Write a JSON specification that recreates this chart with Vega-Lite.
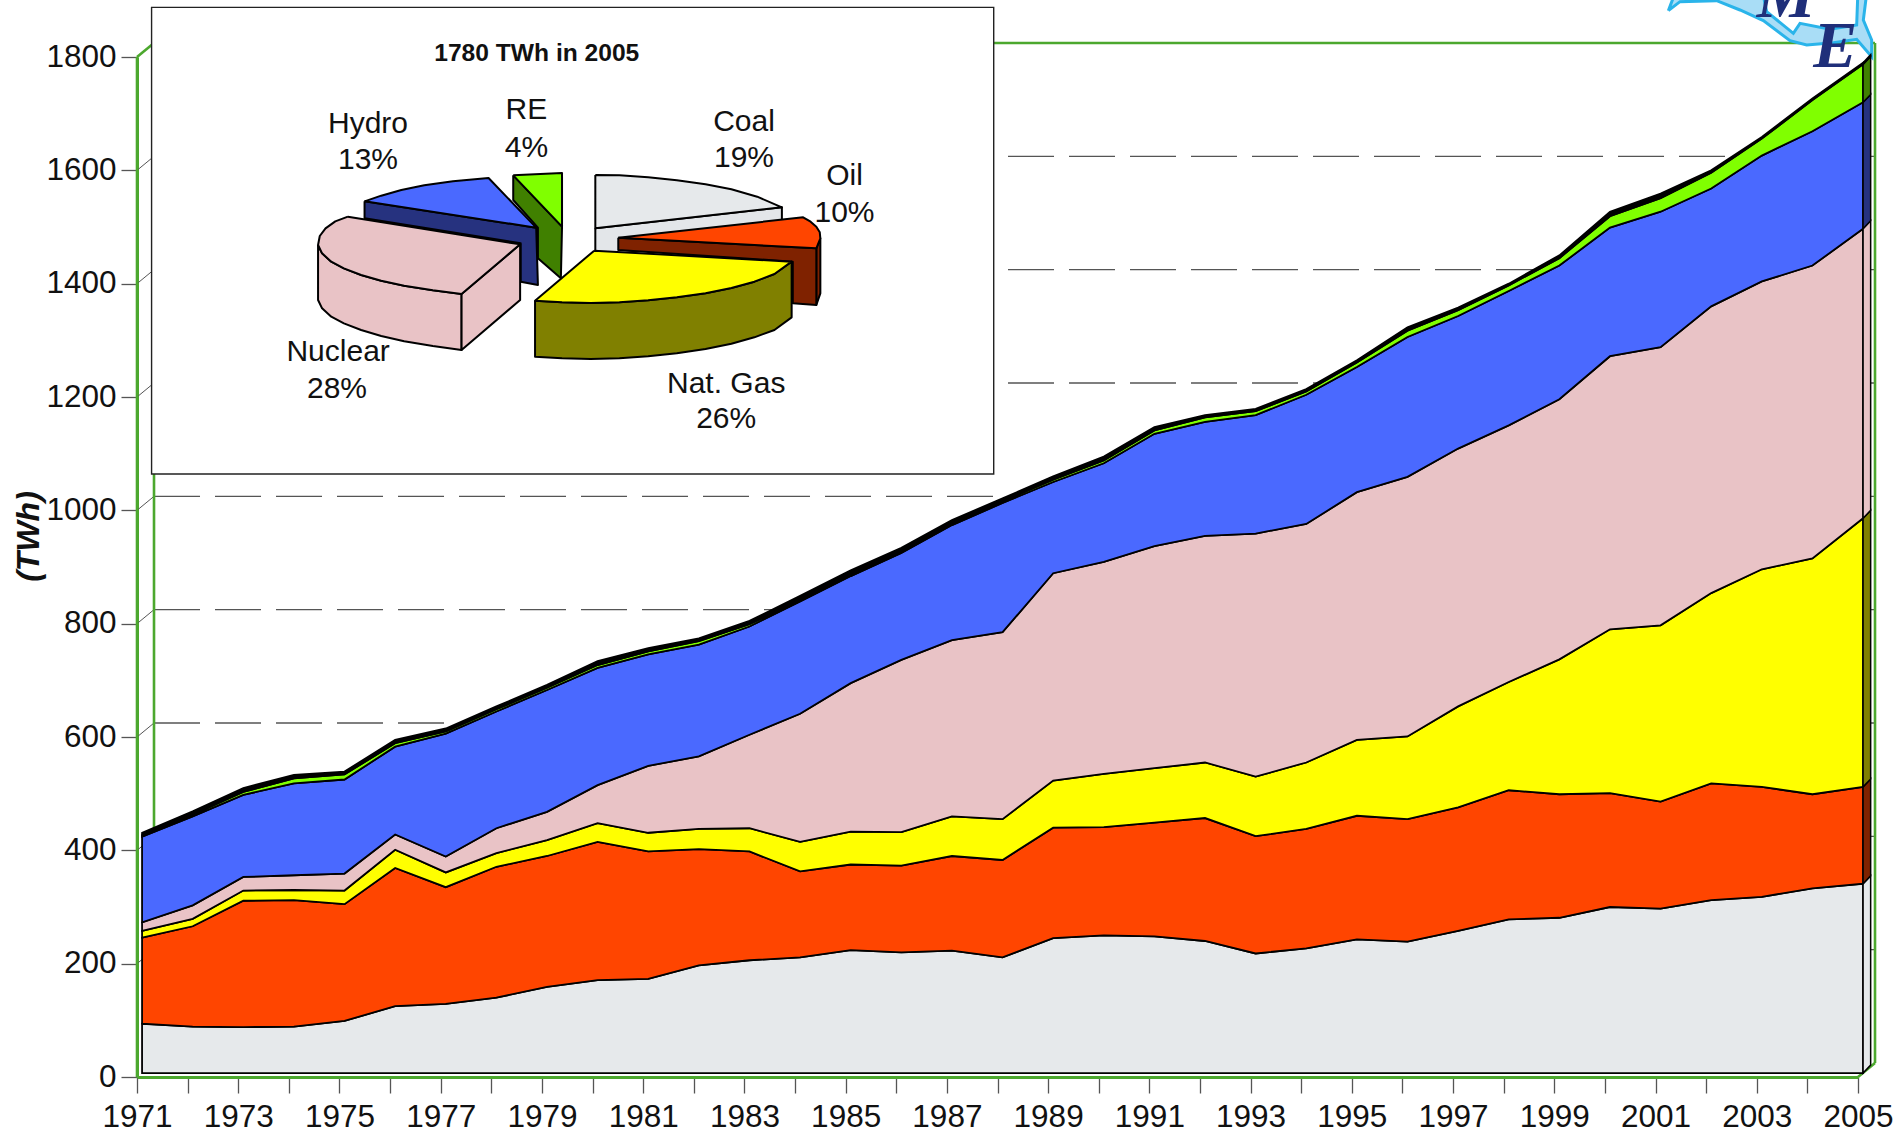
{"$schema":"https://vega.github.io/schema/vega-lite/v6.json","autosize":"none","width":1721,"height":1020,"padding":{"left":137,"top":57,"right":41,"bottom":62},"background":"white","config":{"view":{"stroke":null},"font":"Liberation Sans"},
"datasets":{
"grid":[{"x":1971.336,"x2":2005.336,"y":224.7},{"x":1971.336,"x2":2005.336,"y":424.7},{"x":1971.336,"x2":2005.336,"y":624.7},{"x":1971.336,"x2":2005.336,"y":824.7},{"x":1971.336,"x2":2005.336,"y":1024.7},{"x":1971.336,"x2":2005.336,"y":1224.7},{"x":1971.336,"x2":2005.336,"y":1424.7},{"x":1971.336,"x2":2005.336,"y":1624.7}],
"diag":[{"x":1971,"x2":1971.336,"y":200,"y2":224.7},{"x":1971,"x2":1971.336,"y":400,"y2":424.7},{"x":1971,"x2":1971.336,"y":600,"y2":624.7},{"x":1971,"x2":1971.336,"y":800,"y2":824.7},{"x":1971,"x2":1971.336,"y":1000,"y2":1024.7},{"x":1971,"x2":1971.336,"y":1200,"y2":1224.7},{"x":1971,"x2":1971.336,"y":1400,"y2":1424.7},{"x":1971,"x2":1971.336,"y":1600,"y2":1624.7}],
"wall":[{"x":1971.336,"x2":2005.336,"y":1824.7,"y2":1824.7},{"x":1971.336,"x2":1971.336,"y":24.7,"y2":1824.7},{"x":2005.336,"x2":2005.336,"y":24.7,"y2":1824.7},{"x":1971,"x2":1971.336,"y":1800,"y2":1824.7},{"x":2005,"x2":2005.336,"y":0,"y2":24.7},{"x":1971,"x2":1971,"y":0,"y2":1800}],
"gen":[
{"year":1971,"source":"Coal","k":1,"twh":87},{"year":1971,"source":"Oil","k":2,"twh":152},{"year":1971,"source":"Nat. Gas","k":3,"twh":12},{"year":1971,"source":"Nuclear","k":4,"twh":15},{"year":1971,"source":"Hydro","k":5,"twh":151},{"year":1971,"source":"RE","k":6,"twh":3},{"year":1971,"source":"Other","k":7,"twh":4},
{"year":1972,"source":"Coal","k":1,"twh":82},{"year":1972,"source":"Oil","k":2,"twh":177},{"year":1972,"source":"Nat. Gas","k":3,"twh":13},{"year":1972,"source":"Nuclear","k":4,"twh":24},{"year":1972,"source":"Hydro","k":5,"twh":157},{"year":1972,"source":"RE","k":6,"twh":3},{"year":1972,"source":"Other","k":7,"twh":6},
{"year":1973,"source":"Coal","k":1,"twh":81},{"year":1973,"source":"Oil","k":2,"twh":223},{"year":1973,"source":"Nat. Gas","k":3,"twh":18},{"year":1973,"source":"Nuclear","k":4,"twh":24},{"year":1973,"source":"Hydro","k":5,"twh":145},{"year":1973,"source":"RE","k":6,"twh":5},{"year":1973,"source":"Other","k":7,"twh":7},
{"year":1974,"source":"Coal","k":1,"twh":82},{"year":1974,"source":"Oil","k":2,"twh":223},{"year":1974,"source":"Nat. Gas","k":3,"twh":18},{"year":1974,"source":"Nuclear","k":4,"twh":26},{"year":1974,"source":"Hydro","k":5,"twh":162},{"year":1974,"source":"RE","k":6,"twh":9},{"year":1974,"source":"Other","k":7,"twh":6},
{"year":1975,"source":"Coal","k":1,"twh":92},{"year":1975,"source":"Oil","k":2,"twh":206},{"year":1975,"source":"Nat. Gas","k":3,"twh":24},{"year":1975,"source":"Nuclear","k":4,"twh":30},{"year":1975,"source":"Hydro","k":5,"twh":166},{"year":1975,"source":"RE","k":6,"twh":9},{"year":1975,"source":"Other","k":7,"twh":5},
{"year":1976,"source":"Coal","k":1,"twh":118},{"year":1976,"source":"Oil","k":2,"twh":244},{"year":1976,"source":"Nat. Gas","k":3,"twh":32},{"year":1976,"source":"Nuclear","k":4,"twh":27},{"year":1976,"source":"Hydro","k":5,"twh":155},{"year":1976,"source":"RE","k":6,"twh":6},{"year":1976,"source":"Other","k":7,"twh":6},
{"year":1977,"source":"Coal","k":1,"twh":122},{"year":1977,"source":"Oil","k":2,"twh":206},{"year":1977,"source":"Nat. Gas","k":3,"twh":26},{"year":1977,"source":"Nuclear","k":4,"twh":28},{"year":1977,"source":"Hydro","k":5,"twh":217},{"year":1977,"source":"RE","k":6,"twh":4},{"year":1977,"source":"Other","k":7,"twh":5},
{"year":1978,"source":"Coal","k":1,"twh":133},{"year":1978,"source":"Oil","k":2,"twh":231},{"year":1978,"source":"Nat. Gas","k":3,"twh":24},{"year":1978,"source":"Nuclear","k":4,"twh":44},{"year":1978,"source":"Hydro","k":5,"twh":206},{"year":1978,"source":"RE","k":6,"twh":4},{"year":1978,"source":"Other","k":7,"twh":5},
{"year":1979,"source":"Coal","k":1,"twh":152},{"year":1979,"source":"Oil","k":2,"twh":231},{"year":1979,"source":"Nat. Gas","k":3,"twh":28},{"year":1979,"source":"Nuclear","k":4,"twh":50},{"year":1979,"source":"Hydro","k":5,"twh":215},{"year":1979,"source":"RE","k":6,"twh":4},{"year":1979,"source":"Other","k":7,"twh":5},
{"year":1980,"source":"Coal","k":1,"twh":164},{"year":1980,"source":"Oil","k":2,"twh":244},{"year":1980,"source":"Nat. Gas","k":3,"twh":33},{"year":1980,"source":"Nuclear","k":4,"twh":67},{"year":1980,"source":"Hydro","k":5,"twh":207},{"year":1980,"source":"RE","k":6,"twh":5},{"year":1980,"source":"Other","k":7,"twh":7},
{"year":1981,"source":"Coal","k":1,"twh":166},{"year":1981,"source":"Oil","k":2,"twh":225},{"year":1981,"source":"Nat. Gas","k":3,"twh":33},{"year":1981,"source":"Nuclear","k":4,"twh":118},{"year":1981,"source":"Hydro","k":5,"twh":197},{"year":1981,"source":"RE","k":6,"twh":5},{"year":1981,"source":"Other","k":7,"twh":6},
{"year":1982,"source":"Coal","k":1,"twh":190},{"year":1982,"source":"Oil","k":2,"twh":205},{"year":1982,"source":"Nat. Gas","k":3,"twh":36},{"year":1982,"source":"Nuclear","k":4,"twh":128},{"year":1982,"source":"Hydro","k":5,"twh":197},{"year":1982,"source":"RE","k":6,"twh":6},{"year":1982,"source":"Other","k":7,"twh":5},
{"year":1983,"source":"Coal","k":1,"twh":199},{"year":1983,"source":"Oil","k":2,"twh":192},{"year":1983,"source":"Nat. Gas","k":3,"twh":41},{"year":1983,"source":"Nuclear","k":4,"twh":165},{"year":1983,"source":"Hydro","k":5,"twh":191},{"year":1983,"source":"RE","k":6,"twh":4},{"year":1983,"source":"Other","k":7,"twh":6},
{"year":1984,"source":"Coal","k":1,"twh":204},{"year":1984,"source":"Oil","k":2,"twh":152},{"year":1984,"source":"Nat. Gas","k":3,"twh":52},{"year":1984,"source":"Nuclear","k":4,"twh":226},{"year":1984,"source":"Hydro","k":5,"twh":198},{"year":1984,"source":"RE","k":6,"twh":3},{"year":1984,"source":"Other","k":7,"twh":7},
{"year":1985,"source":"Coal","k":1,"twh":217},{"year":1985,"source":"Oil","k":2,"twh":151},{"year":1985,"source":"Nat. Gas","k":3,"twh":58},{"year":1985,"source":"Nuclear","k":4,"twh":262},{"year":1985,"source":"Hydro","k":5,"twh":189},{"year":1985,"source":"RE","k":6,"twh":3},{"year":1985,"source":"Other","k":7,"twh":7},
{"year":1986,"source":"Coal","k":1,"twh":213},{"year":1986,"source":"Oil","k":2,"twh":153},{"year":1986,"source":"Nat. Gas","k":3,"twh":59},{"year":1986,"source":"Nuclear","k":4,"twh":304},{"year":1986,"source":"Hydro","k":5,"twh":189},{"year":1986,"source":"RE","k":6,"twh":3},{"year":1986,"source":"Other","k":7,"twh":6},
{"year":1987,"source":"Coal","k":1,"twh":216},{"year":1987,"source":"Oil","k":2,"twh":167},{"year":1987,"source":"Nat. Gas","k":3,"twh":70},{"year":1987,"source":"Nuclear","k":4,"twh":311},{"year":1987,"source":"Hydro","k":5,"twh":203},{"year":1987,"source":"RE","k":6,"twh":3},{"year":1987,"source":"Other","k":7,"twh":6},
{"year":1988,"source":"Coal","k":1,"twh":204},{"year":1988,"source":"Oil","k":2,"twh":172},{"year":1988,"source":"Nat. Gas","k":3,"twh":72},{"year":1988,"source":"Nuclear","k":4,"twh":330},{"year":1988,"source":"Hydro","k":5,"twh":228},{"year":1988,"source":"RE","k":6,"twh":3},{"year":1988,"source":"Other","k":7,"twh":5},
{"year":1989,"source":"Coal","k":1,"twh":238},{"year":1989,"source":"Oil","k":2,"twh":195},{"year":1989,"source":"Nat. Gas","k":3,"twh":83},{"year":1989,"source":"Nuclear","k":4,"twh":366},{"year":1989,"source":"Hydro","k":5,"twh":161},{"year":1989,"source":"RE","k":6,"twh":4},{"year":1989,"source":"Other","k":7,"twh":6},
{"year":1990,"source":"Coal","k":1,"twh":243},{"year":1990,"source":"Oil","k":2,"twh":191},{"year":1990,"source":"Nat. Gas","k":3,"twh":94},{"year":1990,"source":"Nuclear","k":4,"twh":374},{"year":1990,"source":"Hydro","k":5,"twh":174},{"year":1990,"source":"RE","k":6,"twh":5},{"year":1990,"source":"Other","k":7,"twh":7},
{"year":1991,"source":"Coal","k":1,"twh":241},{"year":1991,"source":"Oil","k":2,"twh":201},{"year":1991,"source":"Nat. Gas","k":3,"twh":96},{"year":1991,"source":"Nuclear","k":4,"twh":392},{"year":1991,"source":"Hydro","k":5,"twh":198},{"year":1991,"source":"RE","k":6,"twh":6},{"year":1991,"source":"Other","k":7,"twh":6},
{"year":1992,"source":"Coal","k":1,"twh":233},{"year":1992,"source":"Oil","k":2,"twh":217},{"year":1992,"source":"Nat. Gas","k":3,"twh":98},{"year":1992,"source":"Nuclear","k":4,"twh":400},{"year":1992,"source":"Hydro","k":5,"twh":201},{"year":1992,"source":"RE","k":6,"twh":8},{"year":1992,"source":"Other","k":7,"twh":4},
{"year":1993,"source":"Coal","k":1,"twh":211},{"year":1993,"source":"Oil","k":2,"twh":207},{"year":1993,"source":"Nat. Gas","k":3,"twh":105},{"year":1993,"source":"Nuclear","k":4,"twh":429},{"year":1993,"source":"Hydro","k":5,"twh":209},{"year":1993,"source":"RE","k":6,"twh":7},{"year":1993,"source":"Other","k":7,"twh":4},
{"year":1994,"source":"Coal","k":1,"twh":220},{"year":1994,"source":"Oil","k":2,"twh":211},{"year":1994,"source":"Nat. Gas","k":3,"twh":117},{"year":1994,"source":"Nuclear","k":4,"twh":421},{"year":1994,"source":"Hydro","k":5,"twh":228},{"year":1994,"source":"RE","k":6,"twh":6},{"year":1994,"source":"Other","k":7,"twh":4},
{"year":1995,"source":"Coal","k":1,"twh":236},{"year":1995,"source":"Oil","k":2,"twh":218},{"year":1995,"source":"Nat. Gas","k":3,"twh":134},{"year":1995,"source":"Nuclear","k":4,"twh":437},{"year":1995,"source":"Hydro","k":5,"twh":221},{"year":1995,"source":"RE","k":6,"twh":8},{"year":1995,"source":"Other","k":7,"twh":4},
{"year":1996,"source":"Coal","k":1,"twh":232},{"year":1996,"source":"Oil","k":2,"twh":216},{"year":1996,"source":"Nat. Gas","k":3,"twh":146},{"year":1996,"source":"Nuclear","k":4,"twh":458},{"year":1996,"source":"Hydro","k":5,"twh":247},{"year":1996,"source":"RE","k":6,"twh":11},{"year":1996,"source":"Other","k":7,"twh":6},
{"year":1997,"source":"Coal","k":1,"twh":251},{"year":1997,"source":"Oil","k":2,"twh":218},{"year":1997,"source":"Nat. Gas","k":3,"twh":178},{"year":1997,"source":"Nuclear","k":4,"twh":455},{"year":1997,"source":"Hydro","k":5,"twh":234},{"year":1997,"source":"RE","k":6,"twh":10},{"year":1997,"source":"Other","k":7,"twh":5},
{"year":1998,"source":"Coal","k":1,"twh":271},{"year":1998,"source":"Oil","k":2,"twh":228},{"year":1998,"source":"Nat. Gas","k":3,"twh":191},{"year":1998,"source":"Nuclear","k":4,"twh":453},{"year":1998,"source":"Hydro","k":5,"twh":237},{"year":1998,"source":"RE","k":6,"twh":10},{"year":1998,"source":"Other","k":7,"twh":3},
{"year":1999,"source":"Coal","k":1,"twh":274},{"year":1999,"source":"Oil","k":2,"twh":218},{"year":1999,"source":"Nat. Gas","k":3,"twh":238},{"year":1999,"source":"Nuclear","k":4,"twh":459},{"year":1999,"source":"Hydro","k":5,"twh":236},{"year":1999,"source":"RE","k":6,"twh":13},{"year":1999,"source":"Other","k":7,"twh":5},
{"year":2000,"source":"Coal","k":1,"twh":293},{"year":2000,"source":"Oil","k":2,"twh":201},{"year":2000,"source":"Nat. Gas","k":3,"twh":289},{"year":2000,"source":"Nuclear","k":4,"twh":482},{"year":2000,"source":"Hydro","k":5,"twh":227},{"year":2000,"source":"RE","k":6,"twh":20},{"year":2000,"source":"Other","k":7,"twh":8},
{"year":2001,"source":"Coal","k":1,"twh":290},{"year":2001,"source":"Oil","k":2,"twh":189},{"year":2001,"source":"Nat. Gas","k":3,"twh":311},{"year":2001,"source":"Nuclear","k":4,"twh":491},{"year":2001,"source":"Hydro","k":5,"twh":239},{"year":2001,"source":"RE","k":6,"twh":24},{"year":2001,"source":"Other","k":7,"twh":8},
{"year":2002,"source":"Coal","k":1,"twh":305},{"year":2002,"source":"Oil","k":2,"twh":206},{"year":2002,"source":"Nat. Gas","k":3,"twh":336},{"year":2002,"source":"Nuclear","k":4,"twh":506},{"year":2002,"source":"Hydro","k":5,"twh":208},{"year":2002,"source":"RE","k":6,"twh":28},{"year":2002,"source":"Other","k":7,"twh":4},
{"year":2003,"source":"Coal","k":1,"twh":311},{"year":2003,"source":"Oil","k":2,"twh":194},{"year":2003,"source":"Nat. Gas","k":3,"twh":384},{"year":2003,"source":"Nuclear","k":4,"twh":508},{"year":2003,"source":"Hydro","k":5,"twh":222},{"year":2003,"source":"RE","k":6,"twh":30},{"year":2003,"source":"Other","k":7,"twh":3},
{"year":2004,"source":"Coal","k":1,"twh":326},{"year":2004,"source":"Oil","k":2,"twh":166},{"year":2004,"source":"Nat. Gas","k":3,"twh":416},{"year":2004,"source":"Nuclear","k":4,"twh":517},{"year":2004,"source":"Hydro","k":5,"twh":237},{"year":2004,"source":"RE","k":6,"twh":55},{"year":2004,"source":"Other","k":7,"twh":3},
{"year":2005,"source":"Coal","k":1,"twh":334},{"year":2005,"source":"Oil","k":2,"twh":171},{"year":2005,"source":"Nat. Gas","k":3,"twh":474},{"year":2005,"source":"Nuclear","k":4,"twh":511},{"year":2005,"source":"Hydro","k":5,"twh":223},{"year":2005,"source":"RE","k":6,"twh":67},{"year":2005,"source":"Other","k":7,"twh":3}],
"side":[
{"source":"Coal","x":2005,"lo":0,"hi":334},{"source":"Coal","x":2005.15,"lo":14,"hi":348},
{"source":"Oil","x":2005,"lo":334,"hi":505},{"source":"Oil","x":2005.15,"lo":348,"hi":519},
{"source":"Nat. Gas","x":2005,"lo":505,"hi":979},{"source":"Nat. Gas","x":2005.15,"lo":519,"hi":993},
{"source":"Nuclear","x":2005,"lo":979,"hi":1490},{"source":"Nuclear","x":2005.15,"lo":993,"hi":1504},
{"source":"Hydro","x":2005,"lo":1490,"hi":1713},{"source":"Hydro","x":2005.15,"lo":1504,"hi":1727},
{"source":"RE","x":2005,"lo":1713,"hi":1780},{"source":"RE","x":2005.15,"lo":1727,"hi":1794},
{"source":"Other","x":2005,"lo":1780,"hi":1783},{"source":"Other","x":2005.15,"lo":1794,"hi":1797}],
"box":[{"px":55,"px2":1522,"py":22,"py2":1422}],
"labels":[{"t":"Hydro","px":432,"py":398},{"t":"13%","px":432,"py":508},{"t":"RE","px":708,"py":358},{"t":"4%","px":708,"py":470},{"t":"Coal","px":1087,"py":392},{"t":"19%","px":1087,"py":500},{"t":"Oil","px":1262,"py":556},{"t":"10%","px":1262,"py":667},{"t":"Nuclear","px":380,"py":1082},{"t":"28%","px":378,"py":1193},{"t":"Nat. Gas","px":1056,"py":1178},{"t":"26%","px":1056,"py":1285}],
"title":[{"t":"1780 TWh in 2005","px":726,"py":183}],
"pie":[
{"part":"coal-side","px":828,"py":685},{"part":"coal-side","px":1153,"py":622},{"part":"coal-side","px":1153,"py":700},{"part":"coal-side","px":828,"py":770},{"part":"coal-side","px":828,"py":685},
{"part":"coal-top","px":828,"py":525},{"part":"coal-top","px":870,"py":526},{"part":"coal-top","px":920,"py":532},{"part":"coal-top","px":970,"py":541},{"part":"coal-top","px":1020,"py":553},{"part":"coal-top","px":1065,"py":568},{"part":"coal-top","px":1110,"py":590},{"part":"coal-top","px":1153,"py":622},{"part":"coal-top","px":828,"py":685},{"part":"coal-top","px":828,"py":525},
{"part":"oil-edge","px":1213,"py":745},{"part":"oil-edge","px":1220,"py":715},{"part":"oil-edge","px":1220,"py":880},{"part":"oil-edge","px":1213,"py":915},{"part":"oil-edge","px":1213,"py":745},
{"part":"oil-side","px":868,"py":713},{"part":"oil-side","px":1213,"py":745},{"part":"oil-side","px":1213,"py":915},{"part":"oil-side","px":1172,"py":910},{"part":"oil-side","px":1172,"py":785},{"part":"oil-side","px":868,"py":750},{"part":"oil-side","px":868,"py":713},
{"part":"oil-top","px":868,"py":713},{"part":"oil-top","px":1190,"py":652},{"part":"oil-top","px":1203,"py":665},{"part":"oil-top","px":1213,"py":680},{"part":"oil-top","px":1219,"py":697},{"part":"oil-top","px":1220,"py":715},{"part":"oil-top","px":1213,"py":745},{"part":"oil-top","px":868,"py":713},
{"part":"re-side","px":685,"py":526},{"part":"re-side","px":770,"py":680},{"part":"re-side","px":768,"py":835},{"part":"re-side","px":728,"py":775},{"part":"re-side","px":728,"py":683},{"part":"re-side","px":685,"py":600},{"part":"re-side","px":685,"py":526},
{"part":"re-top","px":685,"py":526},{"part":"re-top","px":770,"py":519},{"part":"re-top","px":770,"py":680},{"part":"re-top","px":685,"py":526},
{"part":"hyd-side","px":426,"py":604},{"part":"hyd-side","px":725,"py":683},{"part":"hyd-side","px":728,"py":855},{"part":"hyd-side","px":698,"py":845},{"part":"hyd-side","px":698,"py":730},{"part":"hyd-side","px":426,"py":655},{"part":"hyd-side","px":426,"py":604},
{"part":"hyd-top","px":426,"py":604},{"part":"hyd-top","px":455,"py":587},{"part":"hyd-top","px":490,"py":570},{"part":"hyd-top","px":530,"py":556},{"part":"hyd-top","px":580,"py":544},{"part":"hyd-top","px":642,"py":534},{"part":"hyd-top","px":725,"py":683},{"part":"hyd-top","px":426,"py":604},
{"part":"nuc-side","px":345,"py":735},{"part":"nuc-side","px":352,"py":760},{"part":"nuc-side","px":368,"py":785},{"part":"nuc-side","px":390,"py":805},{"part":"nuc-side","px":420,"py":825},{"part":"nuc-side","px":455,"py":842},{"part":"nuc-side","px":495,"py":857},{"part":"nuc-side","px":545,"py":871},{"part":"nuc-side","px":595,"py":882},{"part":"nuc-side","px":595,"py":1050},{"part":"nuc-side","px":545,"py":1038},{"part":"nuc-side","px":495,"py":1024},{"part":"nuc-side","px":455,"py":1008},{"part":"nuc-side","px":420,"py":990},{"part":"nuc-side","px":390,"py":970},{"part":"nuc-side","px":368,"py":950},{"part":"nuc-side","px":352,"py":925},{"part":"nuc-side","px":345,"py":900},{"part":"nuc-side","px":345,"py":735},
{"part":"nuc-edge","px":595,"py":882},{"part":"nuc-edge","px":697,"py":733},{"part":"nuc-edge","px":697,"py":900},{"part":"nuc-edge","px":595,"py":1050},{"part":"nuc-edge","px":595,"py":882},
{"part":"nuc-top","px":397,"py":650},{"part":"nuc-top","px":375,"py":664},{"part":"nuc-top","px":358,"py":685},{"part":"nuc-top","px":348,"py":708},{"part":"nuc-top","px":345,"py":735},{"part":"nuc-top","px":352,"py":760},{"part":"nuc-top","px":368,"py":785},{"part":"nuc-top","px":390,"py":805},{"part":"nuc-top","px":420,"py":825},{"part":"nuc-top","px":455,"py":842},{"part":"nuc-top","px":495,"py":857},{"part":"nuc-top","px":545,"py":871},{"part":"nuc-top","px":595,"py":882},{"part":"nuc-top","px":697,"py":733},{"part":"nuc-top","px":397,"py":650},
{"part":"gas-side","px":723,"py":902},{"part":"gas-side","px":770,"py":907},{"part":"gas-side","px":820,"py":909},{"part":"gas-side","px":870,"py":907},{"part":"gas-side","px":920,"py":901},{"part":"gas-side","px":970,"py":892},{"part":"gas-side","px":1020,"py":880},{"part":"gas-side","px":1065,"py":864},{"part":"gas-side","px":1105,"py":845},{"part":"gas-side","px":1140,"py":822},{"part":"gas-side","px":1170,"py":785},{"part":"gas-side","px":1170,"py":952},{"part":"gas-side","px":1140,"py":990},{"part":"gas-side","px":1105,"py":1012},{"part":"gas-side","px":1065,"py":1031},{"part":"gas-side","px":1020,"py":1047},{"part":"gas-side","px":970,"py":1060},{"part":"gas-side","px":920,"py":1069},{"part":"gas-side","px":870,"py":1075},{"part":"gas-side","px":820,"py":1077},{"part":"gas-side","px":770,"py":1075},{"part":"gas-side","px":723,"py":1070},{"part":"gas-side","px":723,"py":902},
{"part":"gas-top","px":826,"py":752},{"part":"gas-top","px":1170,"py":785},{"part":"gas-top","px":1140,"py":822},{"part":"gas-top","px":1105,"py":845},{"part":"gas-top","px":1065,"py":864},{"part":"gas-top","px":1020,"py":880},{"part":"gas-top","px":970,"py":892},{"part":"gas-top","px":920,"py":901},{"part":"gas-top","px":870,"py":907},{"part":"gas-top","px":820,"py":909},{"part":"gas-top","px":770,"py":907},{"part":"gas-top","px":723,"py":902},{"part":"gas-top","px":826,"py":752}],
"logoBlue":[
{"part":"outer","px":205,"py":32},{"part":"outer","px":240,"py":5},{"part":"outer","px":350,"py":2},{"part":"outer","px":420,"py":30},{"part":"outer","px":490,"py":62},{"part":"outer","px":570,"py":122},{"part":"outer","px":620,"py":135},{"part":"outer","px":700,"py":128},{"part":"outer","px":770,"py":118},{"part":"outer","px":815,"py":170},{"part":"outer","px":815,"py":120},{"part":"outer","px":790,"py":60},{"part":"outer","px":805,"py":-60},{"part":"outer","px":240,"py":-60},{"part":"outer","px":205,"py":32},
{"part":"inner","px":480,"py":-60},{"part":"inner","px":500,"py":35},{"part":"inner","px":580,"py":100},{"part":"inner","px":600,"py":70},{"part":"inner","px":690,"py":88},{"part":"inner","px":770,"py":75},{"part":"inner","px":775,"py":-60},{"part":"inner","px":480,"py":-60}],
"logoText":[{"t":"M","px":470,"py":50},{"t":"E","px":640,"py":200}]
},
"layer":[
{"layer":[
{"data":{"name":"grid"},"mark":{"type":"rule","stroke":"#555555","strokeWidth":1.3,"strokeDash":[46,15]},
"encoding":{"x":{"field":"x","type":"quantitative","scale":{"domain":[1971,2005],"nice":false,"zero":false},
"axis":{"values":[1971,1972,1973,1974,1975,1976,1977,1978,1979,1980,1981,1982,1983,1984,1985,1986,1987,1988,1989,1990,1991,1992,1993,1994,1995,1996,1997,1998,1999,2000,2001,2002,2003,2004,2005],"labelExpr":"datum.value % 2 == 1 ? format(datum.value,'d') : ''","labelOverlap":false,"labelBound":false,"labelFlush":false,"labelFont":"Liberation Sans","labelFontSize":31.5,"labelColor":"#111111","labelPadding":8,"tickSize":16,"tickColor":"#555555","tickWidth":1.3,"domainColor":"#4CA82E","domainWidth":3,"title":null,"grid":false}},
"x2":{"field":"x2"},
"y":{"field":"y","type":"quantitative","scale":{"domain":[0,1800],"nice":false,"zero":false},
"axis":{"values":[0,200,400,600,800,1000,1200,1400,1600,1800],"format":"d","labelOverlap":false,"labelFont":"Liberation Sans","labelFontSize":31.5,"labelColor":"#111111","labelPadding":5,"tickSize":16,"tickColor":"#555555","tickWidth":1.3,"domainColor":"#4CA82E","domainWidth":3,"title":"(TWh)","titleFont":"Liberation Sans","titleFontSize":32,"titleFontStyle":"italic","titleFontWeight":"bold","titleColor":"#111111","titleX":-92,"titleY":479,"titleAlign":"center","grid":false}}}},
{"data":{"name":"diag"},"mark":{"type":"rule","stroke":"#555555","strokeWidth":1},"encoding":{"x":{"field":"x","type":"quantitative"},"x2":{"field":"x2"},"y":{"field":"y","type":"quantitative"},"y2":{"field":"y2"}}},
{"data":{"name":"wall"},"mark":{"type":"rule","stroke":"#4CA82E","strokeWidth":2.6},"encoding":{"x":{"field":"x","type":"quantitative"},"x2":{"field":"x2"},"y":{"field":"y","type":"quantitative"},"y2":{"field":"y2"}}}
]},
{"layer":[
{"data":{"name":"logoBlue"},"mark":{"type":"line","stroke":"#2AB4EA","strokeWidth":3,"clip":false},"encoding":{
"x":{"field":"px","type":"quantitative","scale":{"domain":[-4389,774],"nice":false,"zero":false},"axis":null},
"y":{"field":"py","type":"quantitative","scale":{"domain":[3231,171],"nice":false,"zero":false},"axis":null},
"order":{"field":"none"},
"detail":{"field":"part"},
"fill":{"field":"part","type":"nominal","scale":{"domain":["outer","inner"],"range":["#A9DDF6","#FFFFFF"]},"legend":null}}},
{"data":{"name":"logoText"},"mark":{"type":"text","font":"Liberation Serif","fontStyle":"italic","fontWeight":"bold","fontSize":66,"color":"#1F2F7A","align":"left","baseline":"alphabetic"},"encoding":{"x":{"field":"px","type":"quantitative"},"y":{"field":"py","type":"quantitative"},"text":{"field":"t"}}}
]},
{"layer":[
{"data":{"name":"gen"},"mark":{"type":"area","stroke":"#000000","strokeWidth":1.8,"strokeJoin":"miter","line":false},"encoding":{
"x":{"field":"year","type":"quantitative","scale":{"domain":[1970.9,2004.9],"nice":false,"zero":false},"axis":null},
"y":{"field":"twh","type":"quantitative","stack":"zero","scale":{"domain":[-7,1793],"nice":false,"zero":false},"axis":null},
"fill":{"field":"source","type":"nominal","scale":{"domain":["Coal","Oil","Nat. Gas","Nuclear","Hydro","RE","Other"],"range":["#E6E9EB","#FF4500","#FFFF00","#E9C3C6","#4A69FF","#80FF00","#000000"]},"legend":null},
"order":{"field":"k","type":"quantitative"}}},
{"data":{"name":"side"},"mark":{"type":"area","stroke":"#000000","strokeWidth":1.5},"encoding":{
"x":{"field":"x","type":"quantitative"},
"y":{"field":"hi","type":"quantitative"},
"y2":{"field":"lo"},
"detail":{"field":"source"},
"fill":{"field":"source","type":"nominal","scale":{"domain":["Coal","Oil","Nat. Gas","Nuclear","Hydro","RE","Other"],"range":["#E6E9EB","#7F2200","#808000","#E9C3C6","#26327F","#408000","#000000"]},"legend":null}}}
],"resolve":{"scale":{"fill":"independent"}}},
{"layer":[
{"data":{"name":"box"},"mark":{"type":"rect","fill":"#FFFFFF","stroke":"#222222","strokeWidth":1.4},"encoding":{
"x":{"field":"px","type":"quantitative","scale":{"domain":[29.6,3027.6],"nice":false,"zero":false},"axis":null},"x2":{"field":"px2"},
"y":{"field":"py","type":"quantitative","scale":{"domain":[3231,171],"nice":false,"zero":false},"axis":null},"y2":{"field":"py2"}}},
{"data":{"name":"pie"},"mark":{"type":"line","stroke":"#000000","strokeWidth":2,"strokeJoin":"round"},"encoding":{
"x":{"field":"px","type":"quantitative"},"y":{"field":"py","type":"quantitative"},
"order":{"field":"none"},
"detail":{"field":"part"},
"fill":{"field":"part","type":"nominal","scale":{"domain":["coal-top","coal-side","oil-top","oil-side","oil-edge","re-top","re-side","hyd-top","hyd-side","nuc-top","nuc-side","nuc-edge","gas-top","gas-side"],"range":["#E6E9EB","#E3E6E9","#FF4500","#7F2200","#7F2200","#80FF00","#408000","#4A69FF","#26327F","#E9C3C6","#E9C3C6","#E9C3C6","#FFFF00","#808000"]},"legend":null}}},
{"data":{"name":"labels"},"mark":{"type":"text","font":"Liberation Sans","fontSize":30,"color":"#111111","align":"center","baseline":"alphabetic"},"encoding":{"x":{"field":"px","type":"quantitative"},"y":{"field":"py","type":"quantitative"},"text":{"field":"t"}}},
{"data":{"name":"title"},"mark":{"type":"text","font":"Liberation Sans","fontSize":24.6,"fontWeight":"bold","color":"#111111","align":"center","baseline":"alphabetic"},"encoding":{"x":{"field":"px","type":"quantitative"},"y":{"field":"py","type":"quantitative"},"text":{"field":"t"}}}
]}
],
"resolve":{"scale":{"x":"independent","y":"independent","fill":"independent"},"axis":{"x":"independent","y":"independent"}}}
